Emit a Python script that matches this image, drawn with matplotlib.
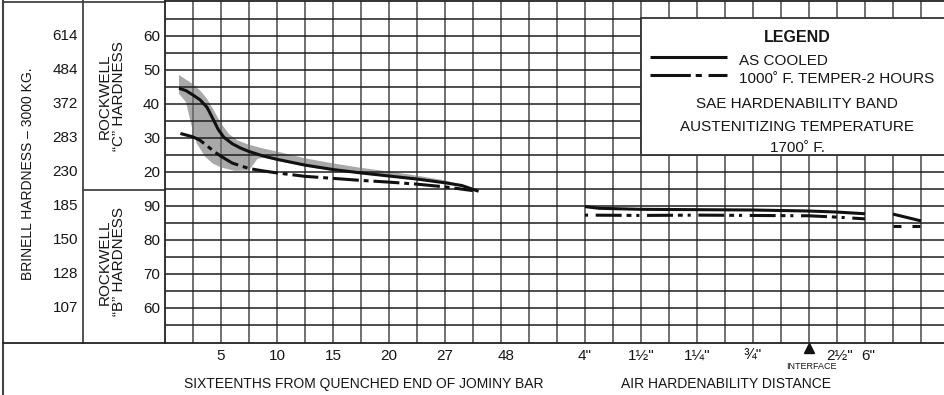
import matplotlib
matplotlib.use("Agg")
import matplotlib.pyplot as plt
import matplotlib.patches as mpatches
import matplotlib.transforms as mtransforms

plt.rcParams.update({
    "font.family": ["Liberation Sans", "DejaVu Sans"],
    "font.size": 10,
})

# ---- data ------------------------------------------------------------------
# x is in grid columns: the horizontal scale of this chart is not linear
JOMINY_TICK_POS = [2, 4, 6, 8, 10, 12.2]
JOMINY_TICK_LABELS = ["5", "10", "15", "20", "27", "48"]
AIR_TICK_POS = [15, 17, 19, 21, 24.1, 25.1]
AIR_TICK_LABELS = ['4"', '1½"', '1¼"', '¾"', '2½"', '6"']
INTERFACE_POS = 23

RC_TICKS = [60, 50, 40, 30, 20]
RB_TICKS = [90, 80, 70, 60]
BRINELL = [614, 484, 372, 283, 230, 185, 150, 128, 107]

# jominy bar, Rockwell C
COOLED_X = [0.5, 0.75, 1.0, 1.25, 1.5, 1.7, 1.9, 2.1, 2.4, 2.7, 3.0, 3.5, 4.0,
            5.0, 6.0, 7.0, 8.0, 9.0, 10.0, 10.6, 11.2]
COOLED_HRC = [44.6, 43.9, 42.6, 41.2, 39.0, 35.8, 32.5, 30.2, 28.3, 27.0, 26.0,
              24.7, 23.7, 22.0, 20.7, 19.7, 18.8, 17.9, 16.8, 16.0, 14.3]
TEMPER_X = [0.55, 1.0, 1.25, 1.5, 1.75, 2.0, 2.4, 3.0, 3.5, 4.0, 5.0, 6.0, 7.0,
            8.0, 9.0, 10.0, 11.0]
TEMPER_HRC = [31.3, 30.3, 29.3, 27.7, 26.0, 24.6, 22.6, 21.0, 20.3, 19.7, 18.7,
              18.1, 17.5, 17.0, 16.4, 15.6, 14.5]
BAND_TOP_X = [0.5, 1.0, 1.25, 1.5, 1.75, 2.0, 2.3, 2.6, 3.0, 3.5, 4.0, 5.0, 6.0,
              7.0, 8.0, 9.0, 10.0, 10.6]
BAND_TOP_HRC = [48.5, 45.8, 44.0, 41.5, 38.0, 34.3, 31.0, 29.2, 28.0, 26.9, 26.0,
                24.0, 22.5, 21.2, 20.1, 18.9, 17.5, 16.2]
BAND_LOW_X = [0.5, 0.75, 0.95, 1.13, 1.43, 1.7, 2.0, 2.5, 3.0, 3.3, 3.5, 4.0, 5.0,
              6.0, 7.0, 8.0, 9.0, 10.0, 10.6]
BAND_LOW_HRC = [43.0, 40.5, 33.5, 28.4, 24.5, 22.5, 21.3, 20.3, 20.4, 23.8, 24.2,
                23.3, 21.6, 20.3, 19.4, 18.5, 17.6, 16.6, 16.0]

# air hardenability, Rockwell B
AIR_COOLED_X = [15, 15.5, 17, 19, 21, 23, 24, 25]
AIR_COOLED_HRB = [89.8, 89.3, 89.0, 88.9, 88.8, 88.5, 88.2, 87.7]
AIR_TEMPER_X = [15, 17, 19, 21, 23, 24, 25]
AIR_TEMPER_HRB = [87.3, 87.2, 87.3, 87.2, 87.1, 86.7, 86.2]
SIX_COOLED_X = [26, 27]
SIX_COOLED_HRB = [87.6, 85.6]
SIX_TEMPER_X = [26, 27]
SIX_TEMPER_HRB = [84.2, 84.2]


def rb(vals):
    # Rockwell B 90 sits on the C-scale "10" row of this chart
    return [v - 80 for v in vals]


W, H = 944, 395
COL = 28.0
TXT = "#161616"
fig = plt.figure(figsize=(W / 100, H / 100), dpi=100)

# overlay in pixel units for the left-hand boxes
ov = fig.add_axes([0, 0, 1, 1], zorder=-1)
ov.set_xlim(0, W)
ov.set_ylim(H, 0)
ov.axis("off")

ax = fig.add_axes([165 / W, (H - 343) / H, (W - 165) / W, (343 - 1.5) / H])
ax.set_xlim(0, (W - 165) / COL)
ax.set_ylim(-30.3, 70.1)
ax.set_facecolor("white")

# grid
for gx in range(1, 28):
    ax.axvline(gx, color="#707070", lw=1.4, zorder=1)
for gy in range(-25, 70, 5):
    ax.axhline(gy, color="#1e1e1e", lw=1.1, zorder=1)

for s in ["left", "top", "bottom"]:
    ax.spines[s].set_color("#222222")
    ax.spines[s].set_linewidth(1.3)
ax.spines["right"].set_visible(False)

# hardenability band
bx = BAND_TOP_X + BAND_LOW_X[::-1]
by = BAND_TOP_HRC + BAND_LOW_HRC[::-1]
ax.fill(bx, by, color="#a9a9a9", lw=0, zorder=0.5)

LW = 2.2
DD = (8.5, 1.6, 1.6, 1.6)
ax.plot(COOLED_X, COOLED_HRC, color="#111111", lw=LW, zorder=3,
        solid_capstyle="butt")
ax.plot(TEMPER_X, TEMPER_HRC, color="#111111", lw=LW, zorder=3,
        dashes=DD, dash_capstyle="butt")

ax.plot(AIR_COOLED_X, rb(AIR_COOLED_HRB), color="#111111", lw=LW, zorder=3,
        solid_capstyle="butt")
ax.plot(AIR_TEMPER_X, rb(AIR_TEMPER_HRB), color="#111111", lw=LW, zorder=3,
        dashes=(1.0, 2.5, 8.5, 1.6, 1.6, 1.6), dash_capstyle="butt")
ax.plot(SIX_COOLED_X, rb(SIX_COOLED_HRB), color="#111111", lw=LW, zorder=3,
        solid_capstyle="butt")
ax.plot(SIX_TEMPER_X, rb(SIX_TEMPER_HRB), color="#111111", lw=LW, zorder=3,
        dashes=(2.6, 3.6), dash_capstyle="butt")

# ticks
ax.set_xticks(JOMINY_TICK_POS + AIR_TICK_POS,
              JOMINY_TICK_LABELS + AIR_TICK_LABELS)
ax.set_yticks(RC_TICKS + [v - 80 for v in RB_TICKS],
              [str(v) for v in RC_TICKS + RB_TICKS])
ax.tick_params(axis="both", length=0, labelsize=11, colors=TXT)
ax.tick_params(axis="x", pad=4)
ax.tick_params(axis="y", pad=3.6)

# interface marker
xax = ax.get_xaxis_transform()
ax.plot([INTERFACE_POS], [-0.015], marker="^", ms=7, color="#111111",
        transform=xax, clip_on=False, zorder=5)
ax.text(INTERFACE_POS + 0.09, -0.07, "INTERFACE", transform=xax, fontsize=6.5,
        ha="center", va="center", color=TXT)

ax.text((364 - 165) / COL, -0.12, "SIXTEENTHS FROM QUENCHED END OF JOMINY BAR",
        transform=xax, ha="center", va="center", fontsize=10, color=TXT)
ax.text((726 - 165) / COL, -0.12, "AIR HARDENABILITY DISTANCE",
        transform=xax, ha="center", va="center", fontsize=10, color=TXT)

# legend box
ax.add_patch(mpatches.Rectangle((17, 25), 12, 40.2, facecolor="white",
                                edgecolor="#333333", lw=1.3, zorder=4))
ax.plot([17.32, 20.07], [53.7, 53.7], color="#111111", lw=2.2, zorder=5,
        solid_capstyle="butt")
ax.plot([17.32, 20.07], [48.6, 48.6], color="#111111", lw=2.2, zorder=5,
        dashes=(13.2, 1.6, 2.0, 2.2, 20, 5), dash_capstyle="butt")
tx = (797 - 165) / COL
ax.text(tx, 58.3, "LEGEND", ha="center", va="baseline", fontsize=11.5,
        fontweight="bold", color=TXT, zorder=6)
ax.text(20.51, 51.5, "AS COOLED", ha="left", va="baseline", fontsize=11,
        color=TXT, zorder=6)
ax.text(20.51, 46.2, "1000˚ F. TEMPER-2 HOURS", ha="left", va="baseline",
        fontsize=11, color=TXT, zorder=6)
ax.text(tx, 38.8, "SAE HARDENABILITY BAND", ha="center", va="baseline",
        fontsize=11, color=TXT, zorder=6)
ax.text(tx, 32.1, "AUSTENITIZING TEMPERATURE", ha="center", va="baseline",
        fontsize=11, color=TXT, zorder=6)
ax.text(tx, 25.9, "1700˚ F.", ha="center", va="baseline", fontsize=11,
        color=TXT, zorder=6)

# left boxes
fc = "#444444"
ov.plot([3, 3], [0, H], color=fc, lw=1.5)
ov.plot([3, 165], [1.5, 1.5], color=fc, lw=1.3)
ov.plot([83, 83], [0, 343], color=fc, lw=1.3)
ov.plot([3, 165], [343, 343], color="#222222", lw=1.3)
ov.plot([83, 165], [190, 190], color=fc, lw=1.3)

# break mark top right
ov.plot([873.3, 876.5], [6.7, 2.0], color="#111111", lw=1.6, zorder=5)
ov.plot([879.5, 882.7], [6.7, 2.0], color="#111111", lw=1.6, zorder=5)

btr = mtransforms.blended_transform_factory(ov.transData, ax.transData)
for val, yy in zip(BRINELL, RC_TICKS + [v - 80 for v in RB_TICKS]):
    ov.text(78, yy, str(val), transform=btr, ha="right", va="center",
            fontsize=11, color=TXT)

ov.text(28, 173.5, "BRINELL HARDNESS – 3000 KG.", rotation=90, ha="center",
        va="center", fontsize=10, color=TXT)
ov.text(112, 96, "ROCKWELL\n“C” HARDNESS", rotation=90, ha="center",
        va="center", fontsize=11, color=TXT, linespacing=1.05,
        multialignment="center")
ov.text(112, 262, "ROCKWELL\n“B” HARDNESS", rotation=90, ha="center",
        va="center", fontsize=11, color=TXT, linespacing=1.05,
        multialignment="center")

fig.savefig("out.png", dpi=100)
